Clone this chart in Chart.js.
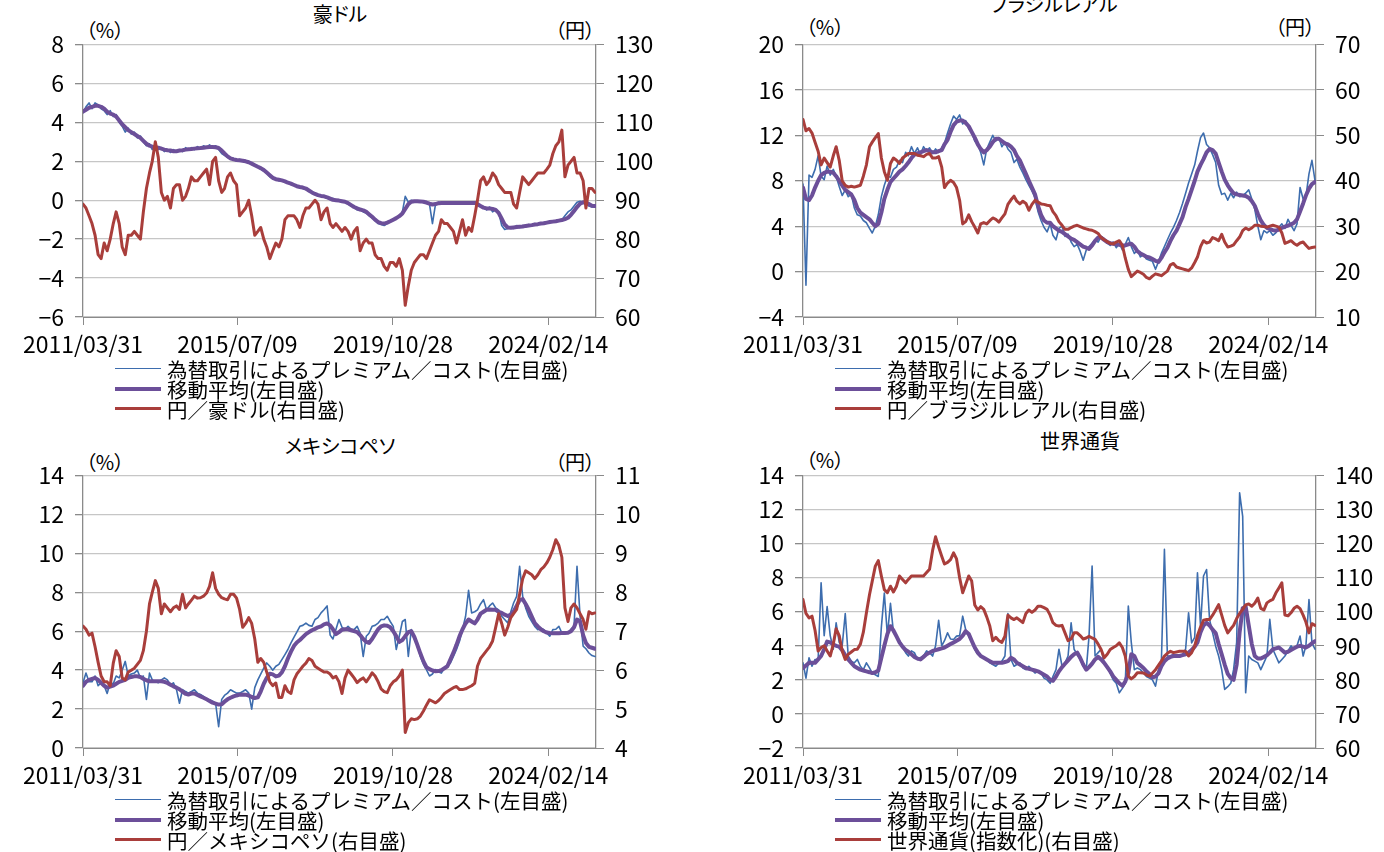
<!DOCTYPE html>
<html lang="ja">
<head>
<meta charset="utf-8">
<title>為替取引によるプレミアム／コスト</title>
<script src="https://cdn.jsdelivr.net/npm/chart.js@4/dist/chart.umd.min.js"></script>
<style>
  html, body { margin: 0; padding: 0; background: #fff; }
  body { width: 1384px; height: 852px; position: relative; overflow: hidden;
         font-family: "Noto Sans CJK JP", "Noto Sans", sans-serif; color: #000; }
  .panel { position: absolute; width: 700px; height: 421px; }
  .panel canvas { position: absolute; left: 0; top: 0; }
  .ttl, .unit { position: absolute; font-size: 20px; line-height: 24px; white-space: nowrap;
                font-feature-settings: "palt"; transform: translate(-50%, -50%); }
  .legend { position: absolute; left: 115px; top: 359px; font-size: 20.5px; }
  .lg-row { display: flex; align-items: center; height: 19.8px; white-space: nowrap; }
  .lg-line { display: inline-block; width: 46px; margin-right: 6px; }
</style>
</head>
<body>

<div class="panel" id="p1" style="left:0px; top:0px">
  <div class="ttl" style="left:340px; top:14px">豪ドル</div>
  <div class="unit" style="left:105px; top:30px">（%）</div>
  <div class="unit" style="left:575px; top:30px">（円）</div>
  <canvas id="c1" width="700" height="360"></canvas>
  <div class="legend" id="lg1"></div>
</div>
<div class="panel" id="p2" style="left:720px; top:0px">
  <div class="ttl" style="left:334px; top:4px">ブラジルレアル</div>
  <div class="unit" style="left:105px; top:27px">（%）</div>
  <div class="unit" style="left:575px; top:27px">（円）</div>
  <canvas id="c2" width="700" height="360"></canvas>
  <div class="legend" id="lg2"></div>
</div>
<div class="panel" id="p3" style="left:0px; top:431px">
  <div class="ttl" style="left:340px; top:15px">メキシコペソ</div>
  <div class="unit" style="left:105px; top:31px">（%）</div>
  <div class="unit" style="left:575px; top:31px">（円）</div>
  <canvas id="c3" width="700" height="360"></canvas>
  <div class="legend" id="lg3"></div>
</div>
<div class="panel" id="p4" style="left:720px; top:431px">
  <div class="ttl" style="left:360px; top:10px">世界通貨</div>
  <div class="unit" style="left:105px; top:29px">（%）</div>
  <canvas id="c4" width="700" height="360"></canvas>
  <div class="legend" id="lg4"></div>
</div>

<script>
// ---- カテゴリ（月末の日付, 2011/03/31 から 171 か月） ----
const monthCount = 171;
const dates = [];
for (let i = 0; i < monthCount; i++) {
  const d = new Date(Date.UTC(2011, 3 + i, 0));
  dates.push(d.toISOString().slice(0, 10).replace(/-/g, '/'));
}
const xStart = '2011/03/31';
const xEnd = '2025/06/10';
const xTickLabels = ['2011/03/31', '2015/07/09', '2019/10/28', '2024/02/14'];

const premiumLabel = '為替取引によるプレミアム／コスト(左目盛)';
const maLabel = '移動平均(左目盛)';

// ---- 豪ドル ----
const audPremium = [
  4.5, 4.8, 5.0, 4.7, 5.0, 4.9, 4.7, 4.6, 4.4, 4.6,
  4.3, 4.4, 4.0, 3.8, 3.5, 3.7, 3.4, 3.5, 3.2, 3.3,
  3.0, 2.8, 2.9, 2.6, 2.8, 2.6, 2.7, 2.5, 2.6, 2.45,
  2.6, 2.5, 2.6, 2.5, 2.7, 2.6, 2.7, 2.6, 2.75, 2.65,
  2.8, 2.7, 2.85, 2.7, 2.8, 2.6, 2.4, 2.3, 2.2, 2.1,
  2.15, 2.0, 2.1, 2.0, 1.95, 2.0, 1.85, 1.8, 1.7, 1.6,
  1.5, 1.4, 1.2, 1.1, 1.1, 1.0, 1.05, 0.95, 0.9, 0.8,
  0.8, 0.7, 0.7, 0.6, 0.55, 0.45, 0.4, 0.3, 0.25, 0.2,
  0.2, 0.1, 0.05, 0.1, -0.05, 0.0, -0.1, -0.1, -0.2, -0.3,
  -0.35, -0.5, -0.45, -0.6, -0.65, -0.8, -0.9, -1.05, -1.2, -1.25,
  -1.3, -1.2, -1.1, -1.0, -0.95, -0.8, -0.6, 0.2, -0.1, 0.0,
  -0.05, -0.1, -0.05, -0.1, -0.1, -0.2, -1.2, -0.2, -0.1, -0.15,
  -0.1, -0.15, -0.1, -0.15, -0.1, -0.2, -0.1, -0.15, -0.1, -0.15,
  -0.1, -0.15, -0.3, -0.4, -0.5, -0.35, -0.6, -0.5, -0.6, -1.3,
  -1.5, -1.45, -1.4, -1.45, -1.3, -1.4, -1.3, -1.35, -1.25, -1.3,
  -1.2, -1.25, -1.2, -1.15, -1.15, -1.1, -1.1, -1.05, -1.0, -1.0,
  -0.8, -0.6, -0.5, -0.3, -0.1, -0.05, -0.1, -0.2, -0.3, -0.35, -0.35
];
const audMa = [
  4.55, 4.65, 4.75, 4.8, 4.85, 4.85, 4.8, 4.7, 4.55, 4.45,
  4.4, 4.3, 4.1, 3.9, 3.75, 3.6, 3.5, 3.4, 3.3, 3.2,
  3.05, 2.9, 2.8, 2.75, 2.72, 2.7, 2.65, 2.6, 2.57, 2.55,
  2.52, 2.52, 2.55, 2.57, 2.6, 2.62, 2.63, 2.65, 2.67, 2.68,
  2.7, 2.72, 2.73, 2.73, 2.72, 2.68, 2.55, 2.4, 2.25, 2.15,
  2.1, 2.07, 2.05, 2.03, 2.0, 1.95, 1.88, 1.8, 1.72, 1.65,
  1.55, 1.42, 1.28, 1.15, 1.08, 1.05, 1.02, 0.97, 0.9, 0.85,
  0.78, 0.72, 0.68, 0.65, 0.6, 0.5, 0.4, 0.32, 0.26, 0.22,
  0.2, 0.15, 0.08, 0.02, 0.0, -0.02, -0.05, -0.08, -0.15, -0.25,
  -0.35, -0.42, -0.48, -0.52, -0.6, -0.72, -0.85, -1.0, -1.12, -1.18,
  -1.2, -1.15, -1.08, -1.0, -0.92, -0.82, -0.68, -0.45, -0.2, -0.08,
  -0.05, -0.05, -0.06, -0.08, -0.12, -0.18, -0.22, -0.2, -0.15, -0.14,
  -0.14, -0.14, -0.14, -0.14, -0.14, -0.14, -0.14, -0.14, -0.14, -0.14,
  -0.14, -0.2, -0.3, -0.38, -0.42, -0.42, -0.45, -0.5, -0.65, -0.95,
  -1.25, -1.4, -1.42, -1.4, -1.38, -1.36, -1.35, -1.32, -1.3, -1.28,
  -1.25, -1.23, -1.2, -1.18, -1.15, -1.12, -1.1, -1.08, -1.05, -1.02,
  -0.97, -0.9, -0.75, -0.55, -0.35, -0.18, -0.1, -0.12, -0.2, -0.28, -0.3
];
const audJpy = [
  89, 88, 86, 84, 81, 76, 75, 79, 77, 80,
  84, 87, 84, 78, 76, 81, 81, 82, 81, 80,
  87, 93, 97, 100, 105, 101, 92, 90, 91, 88,
  93, 94, 94, 90, 91, 93, 96, 95, 95, 96,
  97, 98, 94, 100, 101, 95, 92, 93, 96, 97,
  95, 94, 86, 87, 88, 90, 86, 81, 82, 83,
  80, 78, 75, 77, 79, 78, 80, 85, 86, 86,
  86, 85, 83, 86, 88, 88, 89, 90, 89, 85,
  87, 88, 84, 83, 84, 83, 82, 83, 82, 80,
  82, 83, 77, 79, 80, 79, 79, 76, 75, 75,
  73, 72, 74, 74, 73, 75, 72, 63, 68, 72,
  74, 75, 76, 76, 75, 77, 79, 81, 82, 85,
  84, 84, 83, 82, 79, 82, 85, 81, 83, 82,
  86, 90, 95, 96, 94, 95, 97, 96, 94, 93,
  92, 92, 92, 89, 88, 92, 96, 95, 94, 95,
  96, 97, 97, 97, 98, 99, 102, 104, 105, 108,
  96, 99, 100, 101, 97, 97, 95, 88, 93, 93, 92
];

// ---- ブラジルレアル ----
const brlPremium = [
  7.7, -1.2, 8.5, 8.3, 9.0, 10.2, 8.4, 8.1, 9.3, 8.5,
  9.0, 8.4, 7.5, 6.7, 7.2, 6.6, 6.8, 5.6, 5.0, 4.9,
  4.5, 4.3, 3.8, 3.4, 4.0, 5.0, 6.6, 7.6, 8.4, 8.3,
  9.0, 9.2, 9.8, 9.6, 10.5, 10.2, 11.0, 10.4, 10.9, 10.3,
  11.0, 10.6, 10.9, 10.4, 10.8, 10.5, 10.9, 11.3, 12.2, 13.0,
  13.7, 13.4, 13.8, 13.0, 13.3, 12.6, 12.3, 11.5, 11.2, 10.5,
  9.4, 10.8, 11.4, 12.0, 11.5, 11.8, 11.0, 11.4, 10.8, 10.5,
  9.6, 9.9, 9.2, 8.7, 8.1, 7.6, 7.1, 6.5, 5.3, 4.5,
  3.9, 3.5, 4.2, 3.2, 2.8, 3.8, 4.0, 3.1, 3.3, 2.6,
  2.2, 2.4, 1.8, 1.0, 1.9, 2.2, 2.5, 2.8, 2.6, 3.1,
  2.9, 2.5, 2.3, 2.6, 2.1, 2.5, 1.9, 2.4, 3.0, 2.2,
  1.6, 1.9, 1.3, 1.5, 1.1, 1.0, 0.9, 0.2, 0.9, 1.6,
  2.2, 2.8, 3.4, 3.9, 4.5, 5.2, 6.0, 6.9, 7.8, 8.6,
  9.4, 10.6, 11.8, 12.2, 11.2, 10.9, 10.3, 9.6, 7.6, 6.8,
  6.9, 6.3, 6.9, 6.5, 7.0, 6.6, 6.7, 6.9, 7.2, 6.4,
  5.5, 4.0, 2.8, 3.6, 3.4, 3.6, 3.2, 3.4, 3.9, 4.2,
  3.8, 4.6, 4.1, 3.6, 4.2, 7.4, 6.4, 6.6, 8.6, 9.8, 8.0
];
const brlMa = [
  7.4, 6.4, 6.3, 6.7, 7.4, 8.0, 8.5, 8.7, 8.8, 8.8,
  8.7, 8.4, 8.0, 7.6, 7.2, 7.0, 6.8, 6.3, 5.6, 5.2,
  5.0, 4.8, 4.6, 4.3, 4.0, 4.2, 5.2, 6.4, 7.2, 7.9,
  8.2, 8.5, 8.8, 9.0, 9.3, 9.6, 10.0, 10.3, 10.4, 10.5,
  10.6, 10.7, 10.6, 10.5, 10.5, 10.6, 10.7, 11.2, 11.6, 12.3,
  12.9, 13.2, 13.3, 13.3, 13.1, 12.8, 12.3, 11.8, 11.2, 10.8,
  10.5, 10.7, 11.0, 11.4, 11.7, 11.7, 11.5, 11.3, 11.2, 11.0,
  10.7, 10.2, 9.8, 9.2, 8.6, 8.0, 7.4, 6.8, 5.8, 5.0,
  4.5, 4.3, 4.3, 4.0, 3.8, 3.6, 3.5, 3.3, 3.1, 2.9,
  2.8, 2.6, 2.4, 2.2, 2.1, 2.0, 2.3, 2.7, 3.0, 3.0,
  2.8, 2.6, 2.5, 2.45, 2.4, 2.35, 2.3, 2.3, 2.4, 2.45,
  2.2, 1.8, 1.6, 1.45, 1.3, 1.25, 1.1, 0.95, 0.85, 1.2,
  1.7, 2.1, 2.7, 3.2, 3.6, 4.2, 4.8, 5.7, 6.4, 7.2,
  8.0, 8.8, 9.4, 9.9, 10.5, 10.8, 10.7, 10.4, 9.6, 8.8,
  8.1, 7.6, 7.2, 6.9, 6.8, 6.75, 6.7, 6.65, 6.5, 6.2,
  5.8, 5.1, 4.5, 4.1, 3.85, 3.75, 3.65, 3.6, 3.7, 3.85,
  3.95, 4.05, 4.15, 4.3, 4.6, 5.3, 6.0, 6.7, 7.3, 7.7, 7.9
];
const brlJpy = [
  53.5, 51.0, 51.5, 50.5, 48.5, 46.5, 43.5, 45.0, 44.0, 43.0,
  45.5, 47.5, 44.5, 40.0, 39.0, 38.6, 38.8, 38.6, 38.8, 39.0,
  41.0, 43.5, 47.5, 48.5, 49.5, 50.4, 45.0, 42.0, 40.1, 43.8,
  45.0, 44.5, 43.8, 45.0, 45.5, 46.0, 46.0, 46.0, 45.6, 45.5,
  45.3, 45.8, 46.0, 45.0, 45.0, 45.3, 43.0, 38.5, 39.5, 40.1,
  39.6, 38.5, 35.7, 30.5, 31.0, 32.5, 31.0, 29.8, 28.5, 30.5,
  30.8, 30.5, 31.2, 31.8, 31.5, 30.9, 31.8, 32.7, 34.8, 35.8,
  36.6, 35.5, 34.9, 35.5, 35.0, 33.5, 34.8, 35.7, 35.3, 34.9,
  34.8, 34.6, 34.5, 33.2, 32.3, 31.0, 30.2, 29.3, 29.3, 29.7,
  30.0, 30.2, 29.9, 29.6, 29.4, 29.2, 29.1, 28.8, 28.4, 27.5,
  27.0, 26.6, 26.2, 26.1, 26.5, 26.8, 25.8, 23.0, 20.5, 18.9,
  19.5, 20.1, 19.8, 19.4, 18.7, 18.4, 19.0, 19.5, 19.3, 19.1,
  19.6, 20.1, 21.5, 21.8, 21.0, 20.8, 20.6, 20.4, 20.2, 20.8,
  22.0, 23.2, 25.5, 26.8, 26.3, 26.5, 27.5, 27.2, 26.8, 28.2,
  26.5, 25.4, 25.6, 25.9, 26.8, 27.6, 29.0, 29.6, 29.2, 29.6,
  30.2, 30.2, 30.0, 29.9, 29.8, 30.0, 30.2, 30.0, 29.8, 28.5,
  26.2, 26.5, 26.8, 26.2, 25.8, 26.3, 26.5, 25.8, 25.1, 25.3, 25.4
];

// ---- メキシコペソ ----
const mxnPremium = [
  3.35, 3.85, 3.4, 3.4, 3.7, 3.2, 3.35, 3.2, 2.8, 3.35,
  3.3, 3.7, 3.6, 4.0, 4.45, 3.7, 3.8, 3.85, 4.0, 3.6,
  3.7, 2.5, 3.85, 3.5, 3.4, 3.35, 3.5, 3.6, 3.5, 3.25,
  3.35, 3.0, 2.3, 3.0, 2.9, 2.82, 2.9, 2.99, 2.82, 2.75,
  2.65, 2.5, 2.48, 2.4, 2.3, 1.1, 2.5, 2.7, 2.82, 2.99,
  2.9, 2.82, 2.82, 2.9, 2.99, 2.82, 2.0, 3.1, 3.5, 3.8,
  4.1, 4.37, 4.2, 4.0, 4.2, 4.3, 4.54, 4.8, 5.06, 5.4,
  5.7, 5.95, 6.25, 6.3, 6.42, 6.3, 6.25, 6.6, 6.7, 6.94,
  7.1, 7.3, 5.8, 5.6, 6.1, 6.6, 6.2, 6.1, 6.25, 6.1,
  6.08, 6.25, 5.9, 4.7, 5.74, 5.9, 6.25, 6.3, 6.42, 6.6,
  6.6, 6.77, 6.5, 6.25, 5.06, 5.74, 6.5, 6.6, 4.7, 6.08,
  5.7, 5.4, 4.7, 4.3, 4.03, 3.7, 3.8, 4.03, 3.9, 3.85,
  4.1, 4.2, 4.37, 4.7, 5.06, 5.5, 6.1, 6.77, 8.1, 6.94,
  7.0, 7.1, 7.4, 7.62, 7.1, 7.3, 7.45, 7.2, 7.1, 6.77,
  6.6, 6.43, 7.0, 7.45, 7.79, 9.34, 7.79, 7.2, 6.77, 6.5,
  6.25, 6.08, 6.15, 6.08, 5.9, 5.74, 6.08, 6.1, 6.25, 5.91,
  5.95, 5.91, 6.1, 6.25, 9.34, 6.77, 5.23, 5.1, 4.88, 4.75, 4.7
];
const mxnMa = [
  3.2, 3.4, 3.5, 3.55, 3.6, 3.5, 3.35, 3.2, 3.1, 3.15,
  3.2, 3.3, 3.4, 3.45, 3.5, 3.6, 3.65, 3.68, 3.68, 3.65,
  3.55, 3.48, 3.43, 3.43, 3.43, 3.43, 3.43, 3.4, 3.34, 3.25,
  3.17, 3.1, 3.02, 2.9, 2.78, 2.75, 2.8, 2.8, 2.72, 2.65,
  2.58, 2.5, 2.42, 2.33, 2.28, 2.23, 2.25, 2.38, 2.5, 2.58,
  2.65, 2.7, 2.74, 2.75, 2.74, 2.7, 2.62, 2.57, 2.6, 2.9,
  3.3, 3.6, 3.82, 3.78, 3.68, 3.72, 3.88, 4.2, 4.6, 4.95,
  5.25, 5.42, 5.55, 5.7, 5.85, 5.95, 6.05, 6.12, 6.2, 6.25,
  6.35, 6.4, 6.3, 6.1, 5.85, 5.95, 6.08, 6.1, 6.1, 6.05,
  6.0, 5.95, 5.8, 5.6, 5.45, 5.4, 5.6, 5.85, 6.1, 6.25,
  6.3, 6.28, 6.2, 6.0, 5.75, 5.45, 5.55, 5.75, 5.95, 6.0,
  5.7, 5.3, 4.85, 4.45, 4.15, 4.05, 3.98, 3.94, 3.95, 4.0,
  4.1, 4.2, 4.55, 4.9, 5.3, 5.75, 6.1, 6.4, 6.6, 6.5,
  6.4, 6.6, 6.9, 7.0, 7.1, 7.12, 7.1, 7.1, 7.0, 6.94,
  6.85, 6.78, 6.85, 7.0, 7.3, 7.6, 7.65, 7.4, 7.1, 6.75,
  6.42, 6.25, 6.1, 6.0, 5.93, 5.91, 5.9, 5.9, 5.9, 5.91,
  5.91, 5.92, 6.0, 6.2, 6.6, 6.5, 5.8, 5.4, 5.2, 5.15, 5.1
];
const mxnJpy = [
  7.13, 7.05, 6.9, 6.95, 6.6, 6.2, 5.85, 5.7, 5.7, 5.6,
  6.18, 6.5, 6.35, 5.8, 5.75, 5.95, 6.0, 6.05, 6.15, 6.25,
  6.5, 7.0, 7.7, 8.0, 8.3, 8.1, 7.45, 7.7, 7.6, 7.5,
  7.6, 7.65, 7.56, 7.95, 7.6, 7.7, 7.8, 7.9, 7.85, 7.86,
  7.9, 7.98, 8.15, 8.5, 8.1, 7.95, 7.86, 7.83, 7.81, 7.95,
  7.95, 7.85, 7.56, 7.1, 7.2, 7.35, 7.2, 6.8, 6.2, 6.3,
  6.2, 5.95, 5.7, 5.6, 5.67, 5.3, 5.3, 5.6, 5.45, 5.4,
  5.75, 5.9, 6.0, 6.1, 6.18, 6.3, 6.25, 6.1, 6.05, 6.0,
  5.95, 5.95, 5.9, 5.8, 5.84, 5.7, 5.4, 5.8, 6.0, 5.9,
  5.8, 5.68, 5.75, 5.8, 5.7, 5.8, 5.93, 5.85, 5.7, 5.52,
  5.45, 5.42, 5.6, 5.7, 5.75, 5.85, 6.0, 4.4, 4.65, 4.75,
  4.73, 4.75, 4.82, 4.95, 5.1, 5.24, 5.2, 5.16, 5.22, 5.3,
  5.4, 5.45, 5.5, 5.55, 5.58, 5.5, 5.5, 5.52, 5.56, 5.6,
  5.66, 6.1, 6.3, 6.4, 6.5, 6.6, 6.75, 7.1, 7.45, 7.2,
  6.9, 7.1, 7.35, 7.45, 7.56, 7.95, 8.35, 8.55, 8.5, 8.45,
  8.35, 8.45, 8.58, 8.65, 8.76, 8.9, 9.1, 9.35, 9.2, 8.9,
  7.6, 7.25, 7.6, 7.7, 7.6, 7.45, 7.3, 7.05, 7.5, 7.45, 7.47
];

// ---- 世界通貨 ----
const worldPremium = [
  3.0, 2.1, 3.3, 2.8, 3.2, 3.2, 7.7, 4.6, 6.3, 4.6,
  3.8, 5.35, 4.2, 4.0, 5.9, 3.4, 3.1, 3.0, 3.2, 2.8,
  2.6, 3.0, 2.7, 2.4, 2.3, 2.2, 5.1, 7.1, 4.6, 6.5,
  4.8, 4.5, 4.3, 4.0, 3.6, 3.4, 3.7, 3.6, 3.2, 3.3,
  3.4, 3.7, 3.6, 3.4, 4.0, 5.5, 4.0, 4.3, 4.76, 4.4,
  4.37, 4.57, 4.6, 5.74, 4.96, 4.57, 4.2, 3.8, 3.5, 3.4,
  3.3, 3.2, 3.0, 2.9, 2.8, 3.0, 3.1, 3.4, 5.9, 3.2,
  2.8, 2.9, 3.0, 2.7, 2.6, 2.8, 2.6, 2.4, 2.5, 2.4,
  2.1, 2.0, 1.8, 2.2, 2.6, 3.8, 2.8, 3.0, 3.4, 5.35,
  3.8, 3.5, 3.2, 2.8, 2.6, 4.57, 8.68, 3.4, 3.6, 3.8,
  3.0, 2.8, 2.4, 2.0, 1.8, 1.24, 1.5, 1.8, 6.33, 4.2,
  2.6, 2.7, 2.6, 2.4, 2.2, 2.1, 2.0, 1.63, 2.6, 3.0,
  9.66, 3.4, 3.4, 3.5, 3.4, 3.4, 3.5, 3.8, 5.94, 4.17,
  4.5, 8.29, 5.15, 8.1, 8.48, 5.55, 4.76, 3.98, 3.4, 2.6,
  1.44, 1.6, 1.8, 2.6, 4.2, 12.98, 11.6, 1.24, 3.4, 3.2,
  3.1, 3.0, 2.6, 3.0, 3.4, 5.55, 3.8, 3.4, 3.0, 3.2,
  3.4, 3.7, 4.0, 3.8, 4.0, 4.57, 3.4, 4.0, 6.72, 4.17, 3.8
];
const worldMa = [
  2.7, 2.85, 3.0, 3.0, 3.0, 3.2, 3.4, 3.8, 4.25, 4.2,
  4.08, 4.0, 3.95, 3.75, 3.45, 3.2, 3.0, 2.8, 2.7, 2.6,
  2.55, 2.5, 2.45, 2.4, 2.45, 2.55, 3.3, 4.0, 4.7, 5.15,
  4.9, 4.55, 4.2, 3.95, 3.75, 3.65, 3.5, 3.35, 3.25, 3.2,
  3.35, 3.5, 3.6, 3.7, 3.75, 3.8, 3.85, 3.9, 4.0, 4.1,
  4.2, 4.3, 4.4, 4.6, 4.86, 4.7, 4.3, 3.9, 3.6, 3.4,
  3.3, 3.2, 3.1, 3.0, 3.0, 3.0, 3.0, 3.05, 3.1, 3.3,
  3.2, 3.0, 2.9, 2.8, 2.7, 2.65, 2.6, 2.55, 2.5, 2.4,
  2.3, 2.2, 2.0, 1.95, 2.2, 2.5, 2.75, 2.95, 3.15, 3.35,
  3.5, 3.6, 3.3, 2.9, 2.6, 2.75, 2.95, 3.2, 3.35, 3.2,
  3.0, 2.75, 2.5, 2.2, 2.0, 1.8, 1.65, 1.9, 2.4, 3.5,
  3.4, 3.0, 2.85, 2.7, 2.5, 2.35, 2.15, 2.2, 2.4, 2.8,
  3.1, 3.25, 3.35, 3.4, 3.4, 3.4, 3.45, 3.5, 3.6, 3.75,
  3.95, 4.2, 4.8, 5.2, 5.35, 5.2, 4.95, 4.75, 4.1, 3.5,
  2.9, 2.35, 2.1, 2.0, 2.9, 4.8, 6.2, 6.3, 5.2, 4.1,
  3.4, 3.25, 3.25, 3.35, 3.45, 3.6, 3.8, 3.85, 3.9, 3.75,
  3.6, 3.65, 3.75, 3.85, 3.95, 4.0, 3.95, 3.9, 4.0, 4.15, 4.27
];
const worldIndex = [
  103.6, 99.5, 98.2, 98.7, 94.5, 88.5, 89.5, 90.0, 88.5, 87.0,
  90.5, 95.0, 93.0, 88.5, 86.0, 87.5, 88.2, 88.9, 89.0, 90.5,
  94.0, 99.7, 105.0, 109.0, 113.4, 115.0, 110.5, 106.5, 105.6, 107.5,
  105.8, 107.5, 110.5, 109.5, 108.5, 109.5, 110.5, 110.5, 110.5, 110.5,
  110.5, 111.5, 112.5, 118.0, 122.0, 119.0, 116.3, 114.0, 114.5, 115.3,
  117.3, 115.5, 110.0, 105.6, 108.0, 110.5, 109.0, 102.0, 100.5, 101.5,
  100.7, 98.5, 95.8, 91.5, 92.5, 91.5, 91.0, 92.8, 99.0, 98.2,
  97.7, 98.2, 97.5, 96.8, 99.5, 100.5, 99.8, 100.5, 101.6, 101.6,
  101.2, 100.7, 99.0, 96.8, 96.0, 95.8, 96.0, 93.8, 91.5, 92.0,
  93.8, 93.8, 93.0, 92.0, 92.3, 92.8, 92.3, 91.9, 90.5, 88.9,
  86.5, 87.5, 88.9, 89.5, 90.0, 90.9, 89.5, 87.0, 81.1, 80.3,
  81.0, 82.1, 82.1, 82.0, 81.5, 81.1, 82.0, 83.0, 84.3, 85.5,
  87.0, 87.8, 88.4, 88.0, 88.2, 88.4, 88.4, 88.4, 87.0, 88.0,
  89.9, 93.0, 95.5, 97.5, 97.7, 97.7, 99.0, 100.5, 102.1, 99.0,
  96.0, 93.8, 95.0, 96.0, 98.0, 99.5, 100.7, 102.0, 102.3, 101.6,
  102.5, 104.0, 101.0, 100.5, 102.6, 103.2, 103.6, 105.5, 107.0, 108.5,
  99.0, 98.8, 99.7, 101.0, 101.6, 100.9, 99.0, 97.0, 93.8, 96.5, 96.0
];

// ---- 色 ----
const BLUE = '#3D6DAE';
const PURPLE = '#6C4F99';
const RED = '#A93E3B';
const GRID = '#C6C6C6';
const AXIS = '#8A8A8A';

Chart.defaults.font.family = '"Noto Sans CJK JP", "Noto Sans", sans-serif';
Chart.defaults.font.size = 23;
Chart.defaults.color = '#000';

function dayNum(s) {
  const [y, m, d] = s.split('/').map(Number);
  return Date.UTC(y, m - 1, d) / 86400000;
}

function toPoints(values) {
  return values.map((v, i) => ({ x: dayNum(dates[i]), y: v }));
}

function minusSign(v) {
  return v < 0 ? '\u2212' + Math.abs(v) : String(v);
}

function makeChart(canvasId, legendId, p) {
  const chart = new Chart(document.getElementById(canvasId), {
    type: 'line',
    data: {
      datasets: [
        { label: premiumLabel, data: toPoints(p.premium), borderColor: BLUE, borderWidth: 1.6, yAxisID: 'y', order: 2 },
        { label: maLabel, data: toPoints(p.ma), borderColor: PURPLE, borderWidth: 4, yAxisID: 'y', order: 1 },
        { label: p.rateLabel, data: toPoints(p.rate), borderColor: RED, borderWidth: 3, yAxisID: 'y2', order: 0 }
      ]
    },
    options: {
      responsive: false,
      animation: false,
      events: [],
      layout: { padding: { top: 44.5, left: 0, right: 0, bottom: 0 } },
      elements: {
        point: { radius: 0 },
        line: { tension: 0, borderJoinStyle: 'round', borderCapStyle: 'round' }
      },
      plugins: { legend: { display: false }, tooltip: { enabled: false } },
      scales: {
        x: {
          type: 'linear',
          min: dayNum(xStart),
          max: dayNum(xEnd),
          afterBuildTicks: s => { s.ticks = xTickLabels.map(t => ({ value: dayNum(t) })); },
          afterFit: s => { s.height = 43; },
          ticks: { autoSkip: false, maxRotation: 0, padding: 5, callback: (v, i) => xTickLabels[i] },
          grid: { drawOnChartArea: false, tickLength: 8, color: AXIS },
          border: { color: AXIS }
        },
        y: {
          position: 'left',
          min: p.yMin, max: p.yMax,
          afterFit: s => { s.width = 83; },
          ticks: { stepSize: p.yStep, padding: 11, callback: minusSign },
          grid: { color: GRID, lineWidth: 1.3, tickColor: AXIS, tickLength: 8 },
          border: { color: AXIS, width: 1.3 }
        },
        y2: {
          position: 'right',
          min: p.y2Min, max: p.y2Max,
          afterFit: s => { s.width = 104; },
          ticks: { stepSize: p.y2Step, padding: 11 },
          grid: { drawOnChartArea: false, tickColor: AXIS, tickLength: 8 },
          border: { color: AXIS, width: 1.3 }
        }
      }
    }
  });

  // 凡例（データセットから作る）
  const lg = document.getElementById(legendId);
  chart.data.datasets.forEach(ds => {
    const row = document.createElement('div');
    row.className = 'lg-row';
    row.innerHTML = `<span class="lg-line" style="border-top:${ds.borderWidth}px solid ${ds.borderColor}"></span><span>${ds.label}</span>`;
    lg.appendChild(row);
  });
  return chart;
}

makeChart('c1', 'lg1', {
  premium: audPremium, ma: audMa, rate: audJpy, rateLabel: '円／豪ドル(右目盛)',
  yMin: -6, yMax: 8, yStep: 2, y2Min: 60, y2Max: 130, y2Step: 10
});
makeChart('c2', 'lg2', {
  premium: brlPremium, ma: brlMa, rate: brlJpy, rateLabel: '円／ブラジルレアル(右目盛)',
  yMin: -4, yMax: 20, yStep: 4, y2Min: 10, y2Max: 70, y2Step: 10
});
makeChart('c3', 'lg3', {
  premium: mxnPremium, ma: mxnMa, rate: mxnJpy, rateLabel: '円／メキシコペソ(右目盛)',
  yMin: 0, yMax: 14, yStep: 2, y2Min: 4, y2Max: 11, y2Step: 1
});
makeChart('c4', 'lg4', {
  premium: worldPremium, ma: worldMa, rate: worldIndex, rateLabel: '世界通貨(指数化)(右目盛)',
  yMin: -2, yMax: 14, yStep: 2, y2Min: 60, y2Max: 140, y2Step: 10
});
</script>
</body>
</html>
